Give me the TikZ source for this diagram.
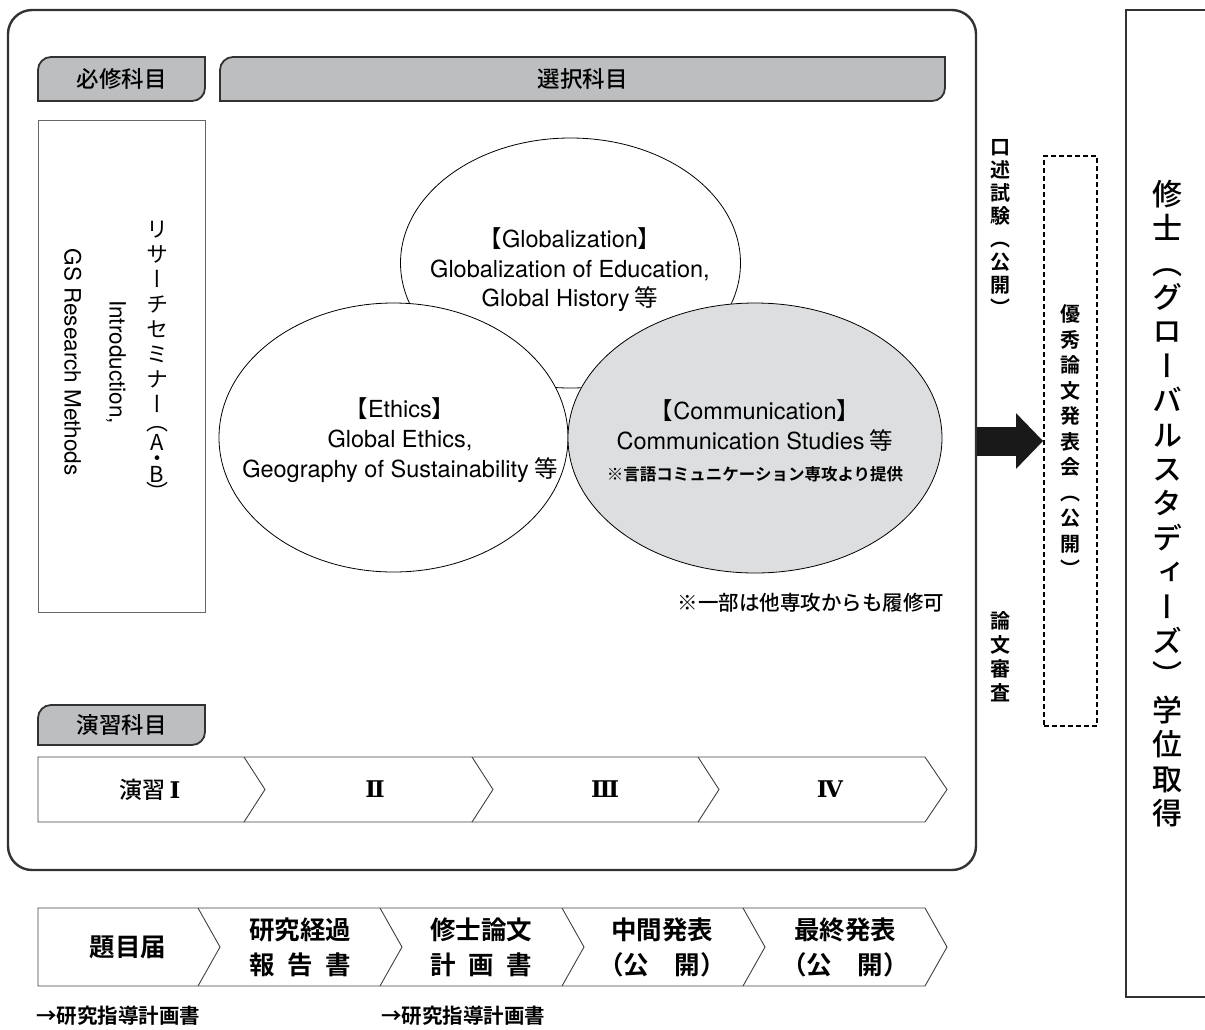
\documentclass[tikz,border=0pt]{standalone}
\usepackage{fontspec}
\setmainfont{Noto Sans CJK JP}[BoldFont={Noto Sans CJK JP Medium}]
\newfontfamily\jpb{Noto Sans CJK JP Bold}
\newfontfamily\en{TeX Gyre Heros}
\newfontfamily\numfont{DejaVu Serif}
\newfontfamily\jpv{Noto Sans CJK JP}[RawFeature=+vert, BoldFont={Noto Sans CJK JP Medium}]
\newfontfamily\jpvb{Noto Sans CJK JP Bold}[RawFeature=+vert]
\usepackage{tikz}
\usetikzlibrary{shapes.geometric, arrows.meta, positioning}
\definecolor{tabgray}{RGB}{188,190,192}
\definecolor{commgray}{RGB}{221,222,223}
\definecolor{framegray}{RGB}{50,50,50}

% tab with two round corners
\newcommand{\tabshape}[4]{%
  \filldraw[tab] (#1,#4) [rounded corners=13] -- (#1,#2) [sharp corners] -- (#3,#2)
    [rounded corners=13] -- (#3,#4) [sharp corners] -- cycle;}

\begin{document}
\begin{tikzpicture}[
    x=1pt, y=-1pt,
    frame/.style={draw=framegray, line width=2.4, rounded corners=24, inner sep=0},
    tab/.style={fill=tabgray, draw=framegray, line width=1.8},
    tablabel/.style={font=\bfseries\fontsize{22.5}{22.5}\selectfont},
    course/.style={ellipse, draw, line width=0.8, fill=white, inner sep=0},
    coursetext/.style={align=center, font=\fontsize{23.5}{29.5}\selectfont},
    chev/.style={draw=black!75, line width=0.9},
    chevlabel/.style={font=\bfseries\fontsize{23}{23}\selectfont},
    flowlabel/.style={align=center, font=\jpb\fontsize{25.5}{35}\selectfont},
    notelabel/.style={font=\bfseries\fontsize{20.5}{20.5}\selectfont},
    vstack/.style={align=center, inner sep=0, font=\jpvb\fontsize{20}{23}\selectfont},
    bigarrow/.style={line width=29, draw=black!90, -{Triangle[length=27pt, width=54pt]}}
  ]
  \useasboundingbox (0,0) rectangle (1205,1029);
  \clip (0,0) rectangle (1205,1029);

  % Frame and tabs
  \node[frame, minimum width=968, minimum height=860] (study) at (492,440) {};
  \tabshape{38}{57}{205}{101}
  \tabshape{220}{57}{945}{101}
  \tabshape{38}{705}{205}{745}
  \node[tablabel] (required) at (121.5,79) {必修科目};
  \node[tablabel] (elective) at (582.5,79) {選択科目};
  \node[tablabel] (practice) at (121.5,725) {演習科目};

  % Required courses
  \node[draw=black!60, line width=0.8, minimum width=167, minimum height=492, inner sep=0] (seminar) at (121.5,366) {};
  \node[vstack, font=\jpv\fontsize{22}{25}\selectfont] (seminarja) at (157,361)
    {リ\\サ\\ー\\チ\\セ\\ミ\\ナ\\ー\\[-7pt]（\\[-5pt]A\\[-9pt]・\\[-9pt]B\\[-7pt]）};
  \node[rotate=-90, align=center, font=\en\fontsize{22.5}{45}\selectfont] (seminaren) at (95,362)
    {Introduction,\\GS Research Methods};

  % Elective courses
  \node[course, minimum width=340, minimum height=250] (glob) at (570.5,263) {};
  \node[course, minimum width=349, minimum height=269] (ethics) at (393.5,437.5) {};
  \node[course, fill=commgray, minimum width=374, minimum height=270] (comm) at (755,438) {};
  \node[coursetext] (globtext) at (570,270)
    {【{\en Globalization}】\\{\en Globalization of Education,}\\{\en Global History} 等};
  \node[coursetext, font=\fontsize{23.5}{30}\selectfont] (ethicstext) at (400,440)
    {【{\en Ethics}】\\{\en Global Ethics,}\\{\en Geography of Sustainability} 等};
  \node[coursetext, font=\fontsize{23.5}{30}\selectfont] (commtext) at (755,425)
    {【{\en Communication}】\\{\en Communication Studies} 等};
  \node[font=\jpb\fontsize{16.5}{16.5}\selectfont] (commnote) at (755,474) {※言語コミュニケーション専攻より提供};
  \node[notelabel, anchor=east] (othernote) at (948,603) {※一部は他専攻からも履修可};

  % Practice
  \draw[chev] (38,757) -- (925,757) -- (947,789.5) -- (925,822) -- (38,822) -- cycle;
  \foreach \x in {244,472,698}
    \draw[chev] (\x,757) -- (\x+21,789.5) -- (\x,822);
  \foreach \lab/\x [count=\i] in {演習\,{\numfont Ⅰ}/150,{\numfont Ⅱ}/375,{\numfont Ⅲ}/605,{\numfont Ⅳ}/830}
    \node[chevlabel] (drill\i) at (\x,789.5) {\lab};

  % Examination and degree
  \node[vstack, draw, dash pattern=on 5pt off 3pt, line width=1.8, minimum width=53, minimum height=570,
    font=\jpvb\fontsize{20}{25.5}\selectfont] (award) at (1070.5,441)
    {優\\秀\\論\\文\\発\\表\\会\\（\\公\\開\\）};
  \node[vstack] (oral) at (1000,227) {口\\述\\試\\験\\（\\公\\開\\）};
  \node[vstack, font=\jpvb\fontsize{20}{24}\selectfont] (review) at (1000,657) {論\\文\\審\\査};
  \node[draw=framegray, line width=2.4, minimum width=82, minimum height=987, inner sep=0, align=center,
    font=\jpv\bfseries\fontsize{30}{34.4}\selectfont] (degree) at (1167,503.5)
    {修\\士\\（\\グ\\ロ\\ー\\バ\\ル\\ス\\タ\\デ\\ィ\\ー\\ズ\\）\\学\\位\\取\\得};
  \draw[bigarrow] (study.east |- award.west) -- (award.west);

  % Research steps
  \draw[chev] (38,908) -- (925,908) -- (947,947) -- (925,986) -- (38,986) -- cycle;
  \foreach \x in {198,380,562,743}
    \draw[chev] (\x,908) -- (\x+22,947) -- (\x,986);
  \node[flowlabel] (title) at (128,947) {題目届};
  \node[flowlabel] (progress) at (300,947) {研究経過\\報\hspace{0.5em}告\hspace{0.5em}書};
  \node[flowlabel] (plan) at (481,947) {修士論文\\計\hspace{0.5em}画\hspace{0.5em}書};
  \node[flowlabel] (midterm) at (662,947) {中間発表\\（公　開）};
  \node[flowlabel] (final) at (845,947) {最終発表\\（公　開）};
  \node[notelabel, font=\jpb\fontsize{20.5}{20.5}\selectfont, anchor=west, inner sep=0] (guide1) at (36,1016) {→研究指導計画書};
  \node[notelabel, font=\jpb\fontsize{20.5}{20.5}\selectfont, anchor=west, inner sep=0] (guide2) at (381,1016) {→研究指導計画書};
\end{tikzpicture}
\end{document}
